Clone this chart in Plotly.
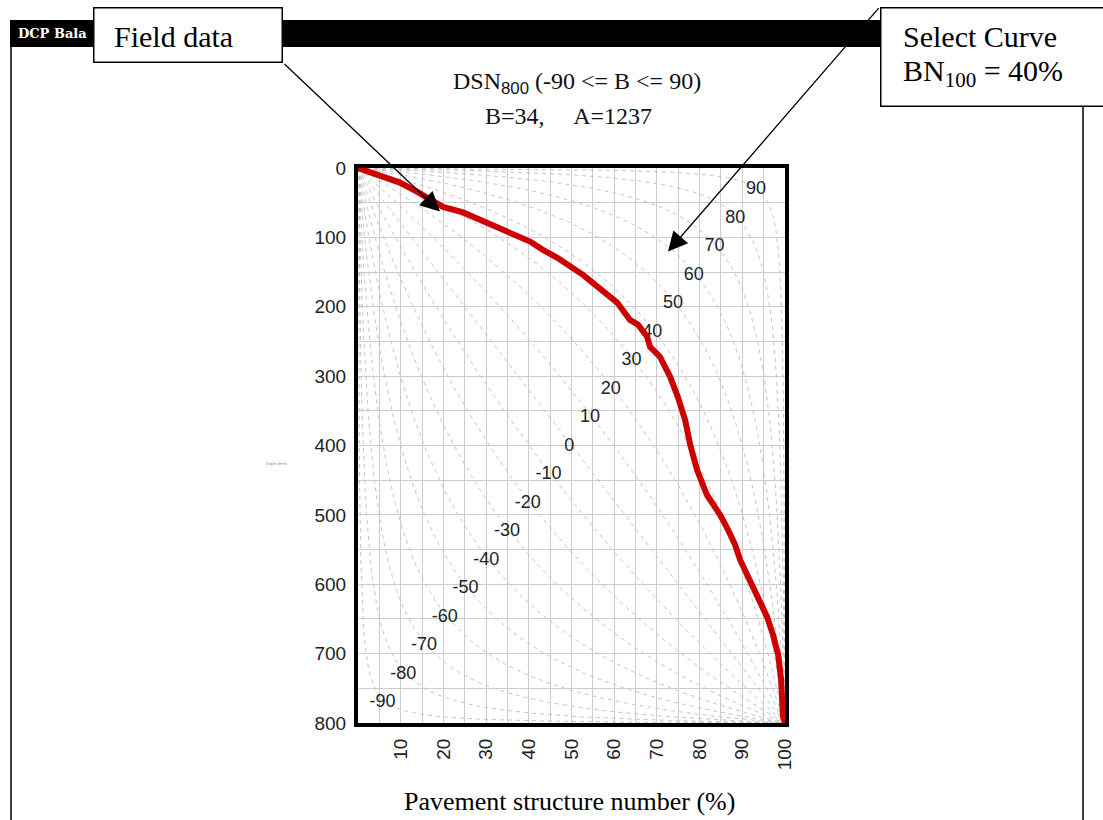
import numpy as np
import plotly.graph_objects as go

# ---------------- data ----------------
# Field data curve: pavement structure number (%) vs depth (mm)
field_sn = [0, 0.9, 2.3, 5.9, 9.8, 13.8, 16.9, 19.9, 24.6, 29.3, 34.0, 40.3, 43.3,
            46.6, 52.7, 56.7, 60.7, 63.7, 65.6, 67.7, 68.4, 70.7, 73.1, 74.9, 76.6,
            77.8, 79.4, 81.7, 84.8, 86.7, 88.3, 89.5, 91.1, 93.4, 95.8, 97.2, 98.4,
            99.1, 99.3, 99.5, 100]
field_depth = [0, 2, 5, 14, 21, 34, 45, 56, 64, 77, 89, 106, 118,
               129, 154, 175, 194, 219, 226, 243, 258, 272, 301, 330, 363,
               399, 435, 471, 500, 522, 543, 565, 586, 615, 647, 673, 702,
               738, 767, 790, 800]

# Balance numbers of the reference curve family
balance_numbers = [-90, -80, -70, -60, -50, -40, -30, -20, -10, 0,
                   10, 20, 30, 40, 50, 60, 70, 80, 90]

x_ticks = [10, 20, 30, 40, 50, 60, 70, 80, 90, 100]
y_ticks = [0, 100, 200, 300, 400, 500, 600, 700, 800]

title_line1 = "DSN<sub><span style='font-family:Liberation Sans'>800</span></sub> (-90 &lt;= B &lt;= 90)"
title_line2 = "B=34,\u00a0\u00a0\u00a0\u00a0 A=1237"
x_title = "Pavement structure number (%)"

# ---------------- geometry helpers (pixels -> paper) ----------------
W, H = 1103, 820
PL, PR, PT, PB = 358, 785, 168, 723


def px(x):
    return (x - PL) / (PR - PL)


def py(y):
    return (PB - y) / (PB - PT)


fig = go.Figure()

# reference balance curves (dashed grey)
u = np.linspace(0, 1, 301)
for b in balance_numbers:
    k = ((100 + b) / (100 - b)) ** 2
    v = u / (k - (k - 1) * u)
    fig.add_trace(go.Scatter(
        x=100 * u, y=800 * v, mode="lines",
        line=dict(color="#c4c4c4", width=1, dash="4px,4px"),
        hoverinfo="skip"))

# curve labels
bn = np.array(balance_numbers, dtype=float)
fig.add_trace(go.Scatter(
    x=49.5 + 0.486 * bn, y=401 - 4.11 * bn, mode="text",
    text=[str(b) for b in balance_numbers],
    textfont=dict(family="Liberation Sans", size=18, color="#222"),
    hoverinfo="skip"))

# field data curve
fig.add_trace(go.Scatter(
    x=field_sn, y=field_depth, mode="lines",
    line=dict(color="#cc0000", width=6), hoverinfo="skip"))

grid_col = "#cccccc"
fig.update_xaxes(
    range=[0, 100], tickvals=x_ticks, tickangle=-90,
    showgrid=True, gridcolor=grid_col, gridwidth=1,
    minor=dict(tick0=0, dtick=5, showgrid=True, gridcolor=grid_col, gridwidth=1),
    showline=True, linewidth=4, linecolor="black", mirror=True,
    ticks="outside", ticklen=4, tickcolor="rgba(0,0,0,0)",
    tickfont=dict(family="Liberation Sans", size=19, color="#222"),
    zeroline=False)
fig.update_yaxes(
    range=[800, 0], tickvals=y_ticks,
    showgrid=True, gridcolor=grid_col, gridwidth=1,
    minor=dict(tick0=0, dtick=50, showgrid=True, gridcolor=grid_col, gridwidth=1),
    showline=True, linewidth=4, linecolor="black", mirror=True,
    ticks="outside", ticklen=4, tickcolor="rgba(0,0,0,0)",
    tickfont=dict(family="Liberation Sans", size=19, color="#222"),
    zeroline=False)

shapes = [
    # black header bar
    dict(type="rect", xref="paper", yref="paper", x0=px(10), x1=px(885),
         y0=py(47), y1=py(20), fillcolor="black", line=dict(width=0), layer="above"),
    # outer frame lines
    dict(type="line", xref="paper", yref="paper", x0=px(11), x1=px(11),
         y0=py(47), y1=py(825), line=dict(color="black", width=1.5)),
    dict(type="line", xref="paper", yref="paper", x0=px(1083), x1=px(1083),
         y0=py(107), y1=py(825), line=dict(color="black", width=1.5)),
]

serif = "Liberation Serif"
ann = [
    dict(text="<b>DCP Bala</b>", x=px(16), y=py(33), xanchor="left", yanchor="middle",
         font=dict(family="DejaVu Serif", size=13, color="white")),
    # Field data box
    dict(text="\u00a0", x=px(93), y=py(7), xanchor="left", yanchor="top",
         width=187, height=53, bgcolor="white", bordercolor="black", borderwidth=1.5, borderpad=0),
    dict(text="Field data", x=px(112), y=py(36), xanchor="left", yanchor="middle",
         font=dict(family=serif, size=30, color="black")),
    # Select curve box
    dict(text="\u00a0", x=px(880), y=py(7), xanchor="left", yanchor="top",
         width=240, height=97, bgcolor="white", bordercolor="black", borderwidth=1.5, borderpad=0),
    dict(text="Select Curve", x=px(901), y=py(37), xanchor="left", yanchor="middle",
         font=dict(family=serif, size=30, color="black")),
    dict(text="BN<sub>100</sub> = 40%", x=px(901), y=py(73), xanchor="left", yanchor="middle",
         font=dict(family=serif, size=30, color="black")),
    # arrows
    dict(text="", x=19.2, y=62.8, xref="x", yref="y", showarrow=True, ax=-157, ay=-149,
         arrowhead=2, arrowsize=3, arrowwidth=1.3, arrowcolor="black"),
    dict(text="", x=72.6, y=120.5, xref="x", yref="y", showarrow=True, ax=212, ay=-245,
         arrowhead=2, arrowsize=3, arrowwidth=1.3, arrowcolor="black"),
    # titles
    dict(text=title_line1, x=px(577), y=py(83), xanchor="center", yanchor="middle",
         font=dict(family=serif, size=24, color="#111")),
    dict(text=title_line2, x=px(568), y=py(116), xanchor="center", yanchor="middle",
         font=dict(family=serif, size=24, color="#111")),
    dict(text=x_title, x=px(569), y=py(802), xanchor="center", yanchor="middle",
         font=dict(family=serif, size=26, color="black")),
    dict(text="Depth (mm)", x=px(277), y=py(463), xanchor="center", yanchor="middle",
         font=dict(family="Liberation Sans", size=4, color="#888")),
]
for a in ann:
    a.setdefault("xref", "paper")
    a.setdefault("yref", "paper")
    a.setdefault("showarrow", False)

fig.update_layout(
    width=W, height=H,
    margin=dict(l=PL, r=W - PR, t=PT, b=H - PB, autoexpand=False),
    paper_bgcolor="white", plot_bgcolor="white", showlegend=False,
    shapes=shapes, annotations=ann)

fig.write_html("out.html", config={"displayModeBar": False},
               post_script="document.body.style.margin='0px';document.body.style.overflow='hidden';")
